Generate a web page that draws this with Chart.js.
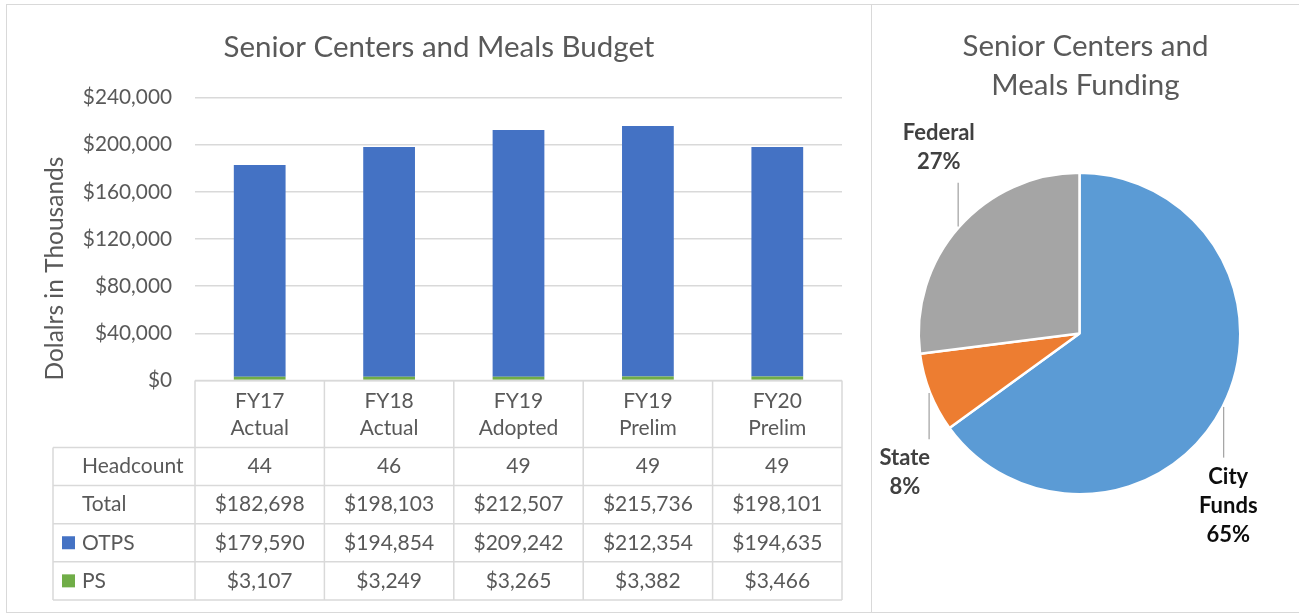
<!DOCTYPE html>
<html>
<head>
<meta charset="utf-8">
<script src="https://cdn.jsdelivr.net/npm/chart.js@4.4.1/dist/chart.umd.min.js"></script>
<style>
html,body{margin:0;padding:0;background:#fff;width:1299px;height:614px;overflow:hidden;}
#frame{position:absolute;left:6px;top:4px;width:1310px;height:609px;border:1.5px solid #d9d9d9;box-sizing:border-box;}
#divider{position:absolute;left:870.5px;top:4px;width:1.5px;height:609px;background:#d9d9d9;}
#barCanvas{position:absolute;left:7px;top:0;}
#pieCanvas{position:absolute;left:872px;top:0;}
</style>
</head>
<body>
<div id="frame"></div>
<div id="divider"></div>
<canvas id="barCanvas" width="864" height="614"></canvas>
<canvas id="pieCanvas" width="427" height="614"></canvas>
<script>
// ---------- data ----------
const categories = [["FY17","Actual"],["FY18","Actual"],["FY19","Adopted"],["FY19","Prelim"],["FY20","Prelim"]];
const headcount = [44, 46, 49, 49, 49];
const totals = [182698, 198103, 212507, 215736, 198101];
const otps = [179590, 194854, 209242, 212354, 194635];
const ps = [3107, 3249, 3265, 3382, 3466];
const yMin = 0, yMax = 240000, yStep = 40000;

const fundingLabels = ["City Funds", "State", "Federal"];
const fundingShares = [65, 8, 27];

// ---------- styles ----------
const FONT = "Lato, 'Open Sans', sans-serif";
const TXT = '#595959';
const GRID = '#d9d9d9';
const OTPS_COLOR = '#4472C4';
const PS_COLOR = '#70AD47';
const PIE_COLORS = ['#5B9BD5', '#ED7D31', '#A5A5A5'];
const PIE_LABEL_COLORS = ['#0d0d0d', '#404040', '#404040'];
const PIE_LABEL_OFFSETS = [[4.6, 98.7], [-24.3, 79.6], [-19.4, -79.2]];

const fmt = v => '$' + v.toLocaleString('en-US');

// ---------- bar chart: title + data table ----------
const barExtras = {
  id: 'barExtras',
  afterDraw(chart) {
    const {ctx, chartArea: a, scales: {x}} = chart;
    ctx.save();
    ctx.fillStyle = TXT;
    ctx.font = `29.5px ${FONT}`;
    ctx.textAlign = 'center';
    ctx.textBaseline = 'middle';
    ctx.fillText('Senior Centers and Meals Budget', chart.width / 2, 47);

    const n = categories.length;
    const colW = (a.right - a.left) / n;
    const top = a.bottom;
    const headerBottom = top + 67;
    const rowH = 38.1;
    const rows = [
      {label: 'Headcount', values: headcount.map(String)},
      {label: 'Total', values: totals.map(fmt)},
      {label: 'OTPS', swatch: OTPS_COLOR, values: otps.map(fmt)},
      {label: 'PS', swatch: PS_COLOR, values: ps.map(fmt)}
    ];
    const tableLeft = 46;
    const tableBottom = headerBottom + rowH * rows.length;

    ctx.strokeStyle = GRID;
    ctx.lineWidth = 1.5;
    ctx.beginPath();
    ctx.moveTo(a.left, top); ctx.lineTo(a.right, top);
    for (let r = 0; r <= rows.length; r++) {
      const yy = headerBottom + r * rowH;
      ctx.moveTo(tableLeft, yy); ctx.lineTo(a.right, yy);
    }
    for (let i = 0; i <= n; i++) {
      const xx = i < n ? x.getPixelForValue(i) - colW / 2 : x.getPixelForValue(n - 1) + colW / 2;
      ctx.moveTo(xx, top); ctx.lineTo(xx, tableBottom);
    }
    ctx.moveTo(tableLeft, headerBottom); ctx.lineTo(tableLeft, tableBottom);
    ctx.stroke();

    ctx.font = `21px ${FONT}`;
    ctx.fillStyle = TXT;
    ctx.textBaseline = 'middle';
    ctx.textAlign = 'center';
    categories.forEach((c, i) => {
      const cx = x.getPixelForValue(i);
      ctx.fillText(c[0], cx, top + 21);
      ctx.fillText(c[1], cx, top + 48);
    });
    rows.forEach((row, r) => {
      const cy = headerBottom + r * rowH + rowH / 2;
      ctx.textAlign = 'left';
      ctx.fillStyle = TXT;
      ctx.fillText(row.label, 75, cy);
      if (row.swatch) {
        ctx.fillStyle = row.swatch;
        ctx.fillRect(55, cy - 6.5, 13, 13);
        ctx.fillStyle = TXT;
      }
      ctx.textAlign = 'center';
      row.values.forEach((v, i) => ctx.fillText(v, x.getPixelForValue(i), cy));
    });
    ctx.restore();
  }
};

new Chart(document.getElementById('barCanvas'), {
  type: 'bar',
  data: {
    labels: categories.map(c => c.join(' ')),
    datasets: [
      {label: 'PS', data: ps, backgroundColor: PS_COLOR},
      {label: 'OTPS', data: otps, backgroundColor: OTPS_COLOR}
    ]
  },
  options: {
    responsive: false,
    animation: false,
    layout: {padding: {top: 97.5, bottom: 614 - 380.5, left: 0, right: 29}},
    plugins: {legend: {display: false}, title: {display: false}, tooltip: {enabled: false}},
    datasets: {bar: {barPercentage: 0.4, categoryPercentage: 1}},
    scales: {
      x: {
        stacked: true,
        grid: {display: false},
        border: {display: false},
        ticks: {display: false},
        afterFit(s) { s.height = 0; }
      },
      y: {
        stacked: true,
        min: yMin, max: yMax,
        ticks: {stepSize: yStep, padding: 23, color: TXT, font: {family: FONT, size: 20.8}, callback: v => fmt(v)},
        grid: {color: GRID, lineWidth: 1.5, drawTicks: false},
        border: {display: false},
        title: {display: true, text: 'Dolalrs in Thousands', align: 'start', color: TXT,
                font: {family: FONT, size: 24.5}, padding: {top: 33, bottom: 0}},
        afterFit(s) { s.width = 188; }
      }
    }
  },
  plugins: [barExtras]
});

// ---------- pie chart ----------
const pieExtras = {
  id: 'pieExtras',
  afterDraw(chart) {
    const {ctx} = chart;
    ctx.save();
    ctx.fillStyle = TXT;
    ctx.font = `29.5px ${FONT}`;
    ctx.textAlign = 'center';
    ctx.textBaseline = 'middle';
    ctx.fillText('Senior Centers and', chart.width / 2, 46);
    ctx.fillText('Meals Funding', chart.width / 2, 85);

    const meta = chart.getDatasetMeta(0);
    const lh = 29;
    meta.data.forEach((arc, i) => {
      const p = arc.getProps(['x', 'y', 'startAngle', 'endAngle', 'outerRadius'], true);
      const mid = (p.startAngle + p.endAngle) / 2;
      const ex = p.x + Math.cos(mid) * (p.outerRadius + 1);
      const ey = p.y + Math.sin(mid) * (p.outerRadius + 1);
      const lx = ex + PIE_LABEL_OFFSETS[i][0];
      const ly = ey + PIE_LABEL_OFFSETS[i][1];
      const lines = fundingLabels[i].split(' ').concat([fundingShares[i] + '%']);
      ctx.font = `bold 22px ${FONT}`;
      const w = Math.max(...lines.map(t => ctx.measureText(t).width));
      const half = (lines.length - 1) / 2 * lh + 13;
      const boxL = lx - w / 2, boxR = lx + w / 2;
      const jx = Math.min(Math.max(ex, boxL), boxR);
      const jy = ly < ey ? ly + half + 8 : ly - half - 6;
      ctx.strokeStyle = '#a6a6a6';
      ctx.lineWidth = 1.3;
      ctx.beginPath();
      ctx.moveTo(ex, ey);
      ctx.lineTo(jx, jy);
      ctx.stroke();
      ctx.fillStyle = PIE_LABEL_COLORS[i];
      lines.forEach((t, k) => ctx.fillText(t, lx, ly + (k - (lines.length - 1) / 2) * lh));
    });
    ctx.restore();
  }
};

new Chart(document.getElementById('pieCanvas'), {
  type: 'pie',
  data: {
    labels: fundingLabels,
    datasets: [{data: fundingShares, backgroundColor: PIE_COLORS, borderColor: '#ffffff', borderWidth: 2.5}]
  },
  options: {
    responsive: false,
    animation: false,
    layout: {padding: {left: 45.5, right: 57.5, top: 171.5, bottom: 118.5}},
    plugins: {legend: {display: false}, tooltip: {enabled: false}}
  },
  plugins: [pieExtras]
});
</script>
</body>
</html>
